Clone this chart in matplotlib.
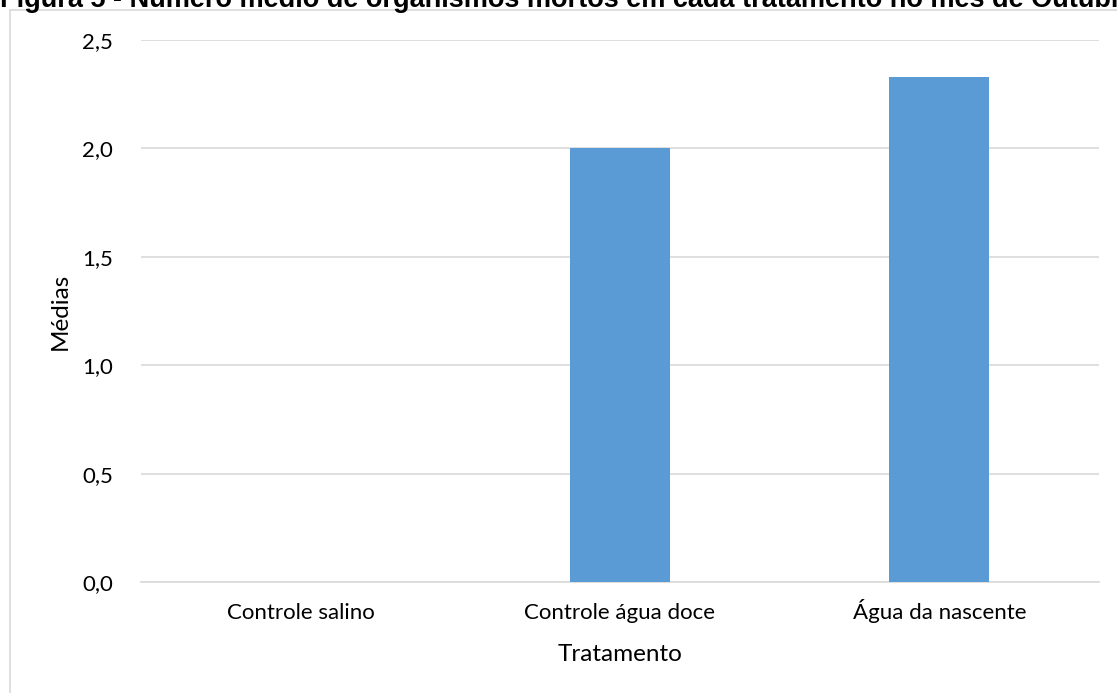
import numpy as np
import matplotlib.pyplot as plt
from matplotlib.patches import Rectangle

# dados
tratamentos = ['Controle salino', 'Controle água doce', 'Água da nascente']
medias = [0.0, 2.0, 2.33]
yticks = [0.0, 0.5, 1.0, 1.5, 2.0, 2.5]
ylabels = ['0,0', '0,5', '1,0', '1,5', '2,0', '2,5']
titulo = 'Figura 5 - Número médio de organismos mortos em cada tratamento no mês de Outubro'

plt.rcParams['font.family'] = ['Lato', 'DejaVu Sans']

W, H = 1117, 693
fig = plt.figure(figsize=(W / 100, H / 100), dpi=100)

# moldura do gráfico
fig.patches.append(Rectangle((10 / W, -0.1), 1.2, 1 - 10 / H + 0.1, transform=fig.transFigure,
                             fill=False, edgecolor='#d9d9d9', linewidth=1.2))

ax = fig.add_axes([141 / W, 1 - 582 / H, (1099 - 141) / W, (582 - 40) / H])
x = np.arange(len(tratamentos))
ax.bar(x, medias, width=0.3125, color='#5b9bd5', zorder=3)

ax.set_xlim(-0.5, 2.5)
ax.set_ylim(0, 2.5)
ax.set_yticks(yticks)
ax.set_yticklabels(ylabels)
ax.set_xticks(x)
ax.set_xticklabels(tratamentos)
ax.tick_params(axis='y', length=0, pad=20, labelsize=16, colors='#000000')
ax.tick_params(axis='x', length=0, pad=26.5, labelsize=16)
for lbl in ax.get_xticklabels():
    lbl.set_verticalalignment('baseline')
ax.grid(axis='y', color='#d9d9d9', linewidth=1.2, zorder=0)
for s in ['top', 'right', 'left']:
    ax.spines[s].set_visible(False)
ax.spines['bottom'].set_color('#d9d9d9')
ax.spines['bottom'].set_linewidth(1.2)

ax.set_xlabel('Tratamento', fontsize=17.5, labelpad=15)
ax.set_ylabel('Médias', fontsize=17.5, labelpad=8)

fig.text(0, 1 - 7 / H, titulo, fontsize=19.5, fontweight='bold', family='Liberation Sans',
         va='baseline', ha='left')

fig.savefig('out.png', dpi=100)
